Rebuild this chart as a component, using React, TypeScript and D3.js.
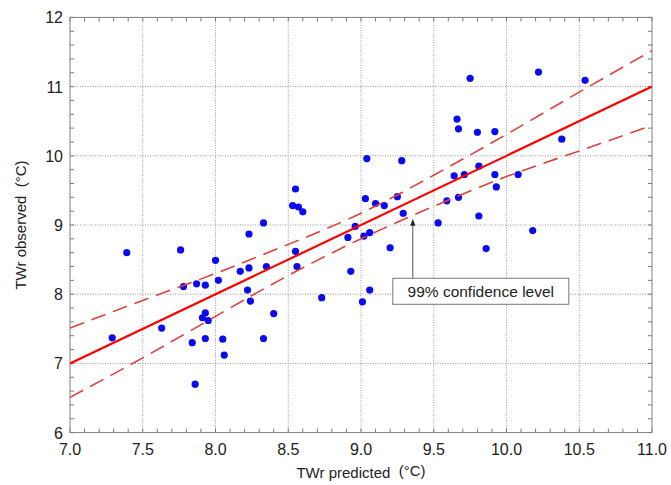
import React from 'react';
import * as d3 from 'd3';

const xTicks = [7.0, 7.5, 8.0, 8.5, 9.0, 9.5, 10.0, 10.5, 11.0];
const yTicks = [6, 7, 8, 9, 10, 11, 12];

const predicted = [
  7.39, 7.76, 7.29, 8.0, 8.23, 8.17, 8.23, 8.02, 7.87, 7.78, 7.93, 8.22, 8.24, 7.93, 7.91, 7.95, 7.63,
  7.84, 7.93, 8.05, 8.06, 7.86,
  9.04, 9.28, 8.55, 8.53, 8.57, 8.6, 8.33, 9.03, 9.1, 9.16, 9.25, 9.29, 9.59, 9.53, 8.96, 8.91, 9.02,
  9.06, 9.2, 8.55, 8.35, 8.56, 8.93, 8.73, 9.01, 9.06, 8.4,
  9.86, 10.18,
  9.75, 10.22, 10.54, 9.66, 9.67, 9.8, 9.92, 10.38, 9.81, 9.64, 9.71, 9.92, 10.08, 9.93, 9.67, 9.81,
  8.33,
];
const observed = [
  8.6, 8.64, 7.37, 8.49, 8.87, 8.33, 8.38, 8.2, 8.15, 8.11, 8.13, 8.06, 7.9, 7.73, 7.66, 7.62, 7.51,
  7.3, 7.36, 7.35, 7.12, 6.7,
  9.96, 9.93, 9.52, 9.28, 9.26, 9.19, 9.03, 9.38, 9.31, 9.28, 9.41, 9.17, 9.35, 9.03, 8.98, 8.82, 8.84,
  8.89, 8.67, 8.62, 8.4, 8.4, 8.33, 7.95, 7.89, 8.06, 7.72,
  8.66, 8.92,
  11.12, 11.21, 11.09, 10.53, 10.39, 10.34, 10.35, 10.24, 9.85, 9.71, 9.73, 9.73, 9.73, 9.55, 9.4, 9.13,
  7.36,
];

const fitX = [7.0, 11.0];
const fitY = [7.0, 11.0];

const bandX = [7.0, 7.5, 8.0, 8.5, 9.0, 9.5, 10.0, 10.5, 11.0];
const bandUpper = [7.51, 7.91, 8.3, 8.72, 9.17, 9.72, 10.31, 10.92, 11.52];
const bandLower = [6.51, 7.08, 7.68, 8.27, 8.8, 9.27, 9.7, 10.07, 10.44];

const annotationText = '99% confidence level';
const annotationTarget = [9.356, 9.09];
const annotationBoxTop = 8.23;

export default function App() {
  const W = 671;
  const H = 485;
  const L = 70, R = 652, T = 17.4, B = 432.6;
  const x = d3.scaleLinear().domain([7, 11]).range([L, R]);
  const y = d3.scaleLinear().domain([6, 12]).range([B, T]);

  const minorX = d3.range(7, 11.0001, 0.1);
  const minorY = d3.range(6, 12.0001, 0.2);

  const line = d3
    .line<[number, number]>()
    .x((d) => x(d[0]))
    .y((d) => y(d[1]));
  const curve = d3
    .line<[number, number]>()
    .x((d) => x(d[0]))
    .y((d) => y(d[1]))
    .curve(d3.curveNatural);

  const fitPts = fitX.map((v, i) => [v, fitY[i]] as [number, number]);
  const upPts = bandX.map((v, i) => [v, bandUpper[i]] as [number, number]);
  const loPts = bandX.map((v, i) => [v, bandLower[i]] as [number, number]);

  const font = '"Liberation Sans", Arial, sans-serif';
  const ax = x(annotationTarget[0]);
  const ay = y(annotationTarget[1]);
  const boxTop = y(annotationBoxTop);
  const boxW = 176;
  const boxH = 26;
  const boxX = ax - 20;

  return (
    <svg
      width={W}
      height={H}
      style={{ position: 'absolute', left: 0, top: 0, background: '#fff' }}
      fontFamily={font}
    >
      <defs>
        <clipPath id="plotclip">
          <rect x={L} y={T} width={R - L} height={B - T} />
        </clipPath>
      </defs>
      {/* grid */}
      {xTicks.slice(1, -1).map((t) => (
        <line key={'gx' + t} x1={x(t)} x2={x(t)} y1={T} y2={B} stroke="#9a9a9a" strokeWidth={1} strokeDasharray="1,1.5" />
      ))}
      {yTicks.slice(1, -1).map((t) => (
        <line key={'gy' + t} x1={L} x2={R} y1={y(t)} y2={y(t)} stroke="#9a9a9a" strokeWidth={1} strokeDasharray="1,1.5" />
      ))}
      {/* minor ticks */}
      {minorX.map((t, i) => (
        <g key={'mx' + i}>
          <line x1={x(t)} x2={x(t)} y1={B} y2={B - 4} stroke="#777" strokeWidth={1} />
          <line x1={x(t)} x2={x(t)} y1={T} y2={T + 4} stroke="#777" strokeWidth={1} />
        </g>
      ))}
      {minorY.map((t, i) => (
        <g key={'my' + i}>
          <line x1={L} x2={L + 4} y1={y(t)} y2={y(t)} stroke="#777" strokeWidth={1} />
          <line x1={R} x2={R - 4} y1={y(t)} y2={y(t)} stroke="#777" strokeWidth={1} />
        </g>
      ))}
      {/* frame */}
      <rect x={L} y={T} width={R - L} height={B - T} fill="none" stroke="#808080" strokeWidth={1} />

      {/* points */}
      <g>
        {predicted.map((p, i) => (
          <circle key={'p' + i} cx={x(p)} cy={y(observed[i])} r={3.6} fill="#0a0af0" />
        ))}
      </g>

      {/* regression + bands */}
      <g clipPath="url(#plotclip)">
        <path d={curve(upPts) || ''} fill="none" stroke="#e0403c" strokeWidth={1.6} strokeDasharray="15,8" />
        <path d={curve(loPts) || ''} fill="none" stroke="#e0403c" strokeWidth={1.6} strokeDasharray="15,8" />
        <path d={line(fitPts) || ''} fill="none" stroke="#ff0000" strokeWidth={2.2} />
      </g>

      {/* annotation */}
      <line x1={ax} x2={ax} y1={boxTop} y2={ay + 5} stroke="#555" strokeWidth={1} />
      <path d={`M${ax},${ay} L${ax - 2.5},${ay + 7} L${ax + 2.5},${ay + 7} Z`} fill="#222" />
      <rect x={boxX} y={boxTop} width={boxW} height={boxH} fill="#fff" stroke="#777" strokeWidth={1} />
      <text x={boxX + boxW / 2} y={boxTop + boxH / 2 + 5.5} textAnchor="middle" fontSize={15.5} fill="#222">
        {annotationText}
      </text>

      {/* axis labels */}
      {xTicks.map((t) => (
        <text key={'xl' + t} x={x(t)} y={B + 22} textAnchor="middle" fontSize={16} fill="#222">
          {t.toFixed(1)}
        </text>
      ))}
      {yTicks.map((t) => (
        <text key={'yl' + t} x={L - 7} y={y(t) + 6} textAnchor="end" fontSize={16} fill="#222">
          {t}
        </text>
      ))}
      <text x={(L + R) / 2} y={478} textAnchor="middle" fontSize={15} fill="#222">
        TWr predicted{'\u00a0\u00a0'}
        <tspan dy={-2}>(°C)</tspan>
      </text>
      <text
        transform={`translate(26,${(T + B) / 2}) rotate(-90)`}
        textAnchor="middle"
        fontSize={15}
        fill="#222"
      >
        TWr observed{'\u00a0\u00a0'}(°C)
      </text>
    </svg>
  );
}
